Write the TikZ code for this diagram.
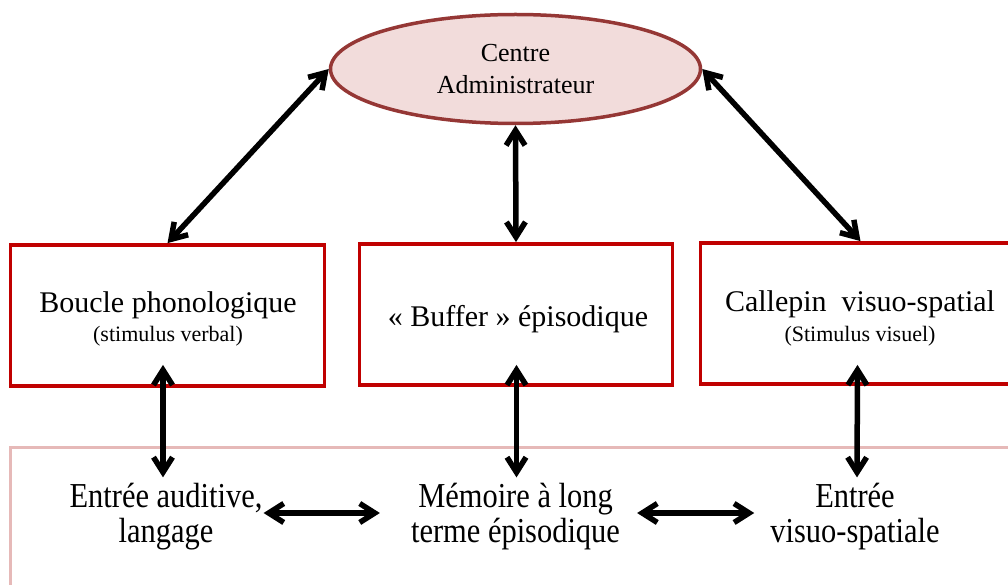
\documentclass[tikz,border=0pt]{standalone}
\usepackage{fontspec}
\setmainfont{Liberation Serif}
\newfontfamily\condfont[FakeStretch=0.87]{Liberation Serif}
\usetikzlibrary{shapes.geometric,arrows.meta}
\definecolor{ellfill}{HTML}{F2DCDB}
\definecolor{elldraw}{HTML}{953735}
\definecolor{boxred}{HTML}{C00000}
\definecolor{pinkline}{HTML}{E6B9B8}
\tikzset{
  redbox/.style={draw=boxred,line width=3.8pt,minimum width=#1,minimum height=141pt,inner sep=0pt},
  boxtext/.style={align=center,inner sep=0pt,font=\fontsize{30}{29}\selectfont},
  lowtext/.style={align=center,inner sep=0pt,font=\condfont\fontsize{35}{35}\selectfont},
  dbl/.style={line width=5.5pt,{Straight Barb[length=15pt,width=19pt]}-{Straight Barb[length=15pt,width=19pt]}}
}
\begin{document}
\begin{tikzpicture}[x=1pt,y=-1pt]
\useasboundingbox (0,0) rectangle (1008,585);
\clip (0,0) rectangle (1008,585);
% long-term memory band
\node[draw=pinkline,fill=white,line width=3pt,minimum width=1020pt,minimum height=160pt,inner sep=0pt] (ltm) at (520,527) {};
% central executive
\node[ellipse,draw=elldraw,fill=ellfill,line width=3.5pt,minimum width=370pt,minimum height=109pt,inner sep=0pt,align=center,font=\fontsize{26}{32}\selectfont] (ca) at (515.5,69) {Centre\\Administrateur};
% boxes
\node[redbox=314pt] (b1) at (167.5,315.5) {};
\node[redbox=313pt] (b2) at (516,314.5) {};
\node[redbox=320pt] (b3) at (860.5,313.5) {};
\node[boxtext] (t1) at (168,319) {Boucle phonologique\\{\fontsize{22}{29}\selectfont (stimulus verbal)}};
\node[boxtext,anchor=base] (t2) at (518,326) {« Buffer » épisodique};
\node[boxtext,font=\fontsize{30}{30}\selectfont] (t3) at (860,318.5) {Callepin\ \ visuo-spatial\\{\fontsize{22}{30}\selectfont (Stimulus visuel)}};
% bottom texts
\node[lowtext] (eaud) at (166,517) {Entrée auditive,\\langage};
\node[lowtext] (mem) at (515.5,517) {Mémoire à long\\terme épisodique};
\node[lowtext] (evs) at (855,517) {Entrée\\visuo-spatiale};
% connectors
\draw[dbl] (b1.north) -- (ca.west);
\draw[dbl] (ca.south) -- (b2.north);
\draw[dbl] (ca.east) -- (b3.north);
\draw[dbl] ([xshift=-4.5pt,yshift=23pt]b1.south) -- ([xshift=-3pt,yshift=6pt]eaud.north);
\draw[dbl] ([xshift=0.5pt,yshift=22pt]b2.south) -- ([xshift=1pt,yshift=6pt]mem.north);
\draw[dbl] ([xshift=-3pt,yshift=21pt]b3.south) -- ([xshift=2pt,yshift=6pt]evs.north);
\draw[dbl] ([xshift=1pt,yshift=4pt]eaud.east) -- ([xshift=-31pt,yshift=4pt]mem.west);
\draw[dbl] ([xshift=17pt,yshift=4pt]mem.east) -- ([xshift=-16pt,yshift=4pt]evs.west);
\end{tikzpicture}
\end{document}
